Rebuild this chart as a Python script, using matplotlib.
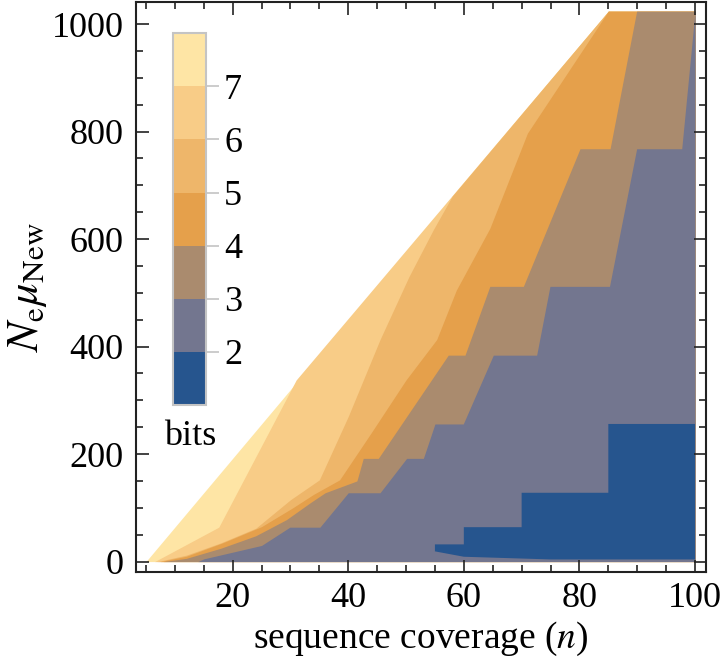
import matplotlib
matplotlib.use("Agg")
import matplotlib.pyplot as plt
from matplotlib.colors import ListedColormap, BoundaryNorm
from matplotlib.cm import ScalarMappable
from matplotlib.ticker import MultipleLocator

plt.rcParams['font.family'] = ['Liberation Serif', 'DejaVu Serif']
plt.rcParams['mathtext.fontset'] = 'stix'

# sampled region: coverage n from 5 to 100, N_e*mu up to 1024
n_min, n_max, mu_max = 5, 100, 1024
n_corner = 85  # coverage where the sampled region first reaches mu_max

# bits levels and band colours (lowest band first)
levels = [1, 2, 3, 4, 5, 6, 7, 8]
band_colors = ['#26558e', '#73768f', '#aa8b6e', '#e5a04b',
               '#eeb66a', '#f8cc87', '#fee5a5']
cbar_ticks = [2, 3, 4, 5, 6, 7]

# contour boundaries: coverage n where info drops below k bits
b7_n = [6.5, 17.6, 31, 85]
b7_mu = [0, 64, 338, 1024]

b6_n = [7, 12, 18, 24, 30, 35, 40, 45.5, 50.5, 54.7, 58, 85]
b6_mu = [0, 12, 35, 62, 115, 152, 270, 413, 530, 617, 680, 1024]

b5_n = [7.5, 12, 18.3, 25, 30.4, 34, 38.5, 44, 50, 55.3, 58.7, 64.5, 71, 85]
b5_mu = [0, 10, 35, 65, 100, 125, 152, 240, 338, 413, 505, 620, 797, 1024]

b4_n = [8, 12, 18, 24, 29.3, 33.5, 36, 41.5, 42.6, 45.2, 57.3, 60.2, 64.5,
        70.3, 80.1, 85.3, 89.9]
b4_mu = [0, 6, 25, 48, 78, 110, 128, 150, 192, 192, 384, 384, 512,
         512, 768, 768, 1024]

b3_n = [14, 15, 25, 29.9, 35.1, 40, 45.5, 50.1, 53, 55, 59.9, 65.1, 72.6,
        74.9, 85.2, 89.9, 97.7, 100]
b3_mu = [0, 5, 30, 64, 64, 128, 128, 192, 192, 256, 256, 384, 384,
         512, 512, 768, 768, 1024]

# region below 2 bits (closed outline)
b2_n = [55, 60, 60, 70, 70, 85, 85, 100, 100, 75, 60, 55]
b2_mu = [32, 32, 64, 64, 128, 128, 256, 256, 4, 4, 9, 19]

fig = plt.figure(figsize=(7.23, 6.65), dpi=100)
ax = fig.add_axes([0.188, 0.140, 0.7885, 0.857])

# whole sampled region gets the top band, then lower bands are layered on
ax.fill_betweenx([0, mu_max], [n_min, n_corner], n_max, color=band_colors[6], lw=0)
bounds = [(7, b7_n, b7_mu), (6, b6_n, b6_mu), (5, b5_n, b5_mu),
          (4, b4_n, b4_mu), (3, b3_n, b3_mu)]
for k, bn, bmu in bounds:
    ax.fill_betweenx(bmu, bn, n_max, color=band_colors[k - 2], lw=0)
ax.fill(b2_n, b2_mu, color=band_colors[0], lw=0)

ax.set_xlim(3.27, 101.9)
ax.set_ylim(-19.2, 1041)
ax.xaxis.set_major_locator(MultipleLocator(20))
ax.xaxis.set_minor_locator(MultipleLocator(5))
ax.yaxis.set_major_locator(MultipleLocator(200))
ax.yaxis.set_minor_locator(MultipleLocator(50))
ax.tick_params(which='both', direction='in', top=True, right=True,
               width=1.2, color='#222222', labelsize=26)
ax.tick_params(which='major', length=9)
ax.tick_params(which='minor', length=5)
ax.tick_params(axis='x', pad=7)
ax.tick_params(axis='y', pad=9)
for sp in ax.spines.values():
    sp.set_linewidth(1.5)
    sp.set_color('#222222')

ax.set_xlabel('sequence coverage ($n$)', fontsize=27, labelpad=4)
ax.set_ylabel(r'$N_{\mathrm{e}}\mu_{\mathrm{New}}$', fontsize=32, labelpad=2)

# inset colour bar
cmap = ListedColormap(band_colors)
norm = BoundaryNorm(levels, cmap.N)
cax = fig.add_axes([0.2397, 0.391, 0.0452, 0.559])
cb = fig.colorbar(ScalarMappable(norm=norm, cmap=cmap), cax=cax, ticks=cbar_ticks)
cb.outline.set_edgecolor('#c4c4c4')
cb.outline.set_linewidth(1.5)
cax.tick_params(color='#c4c4c4', length=9, width=1.2, labelsize=26, pad=4)
cax.minorticks_off()
fig.text(0.2628, 0.343, 'bits', fontsize=26, ha='center', va='center')

fig.savefig('out.png', dpi=100)
